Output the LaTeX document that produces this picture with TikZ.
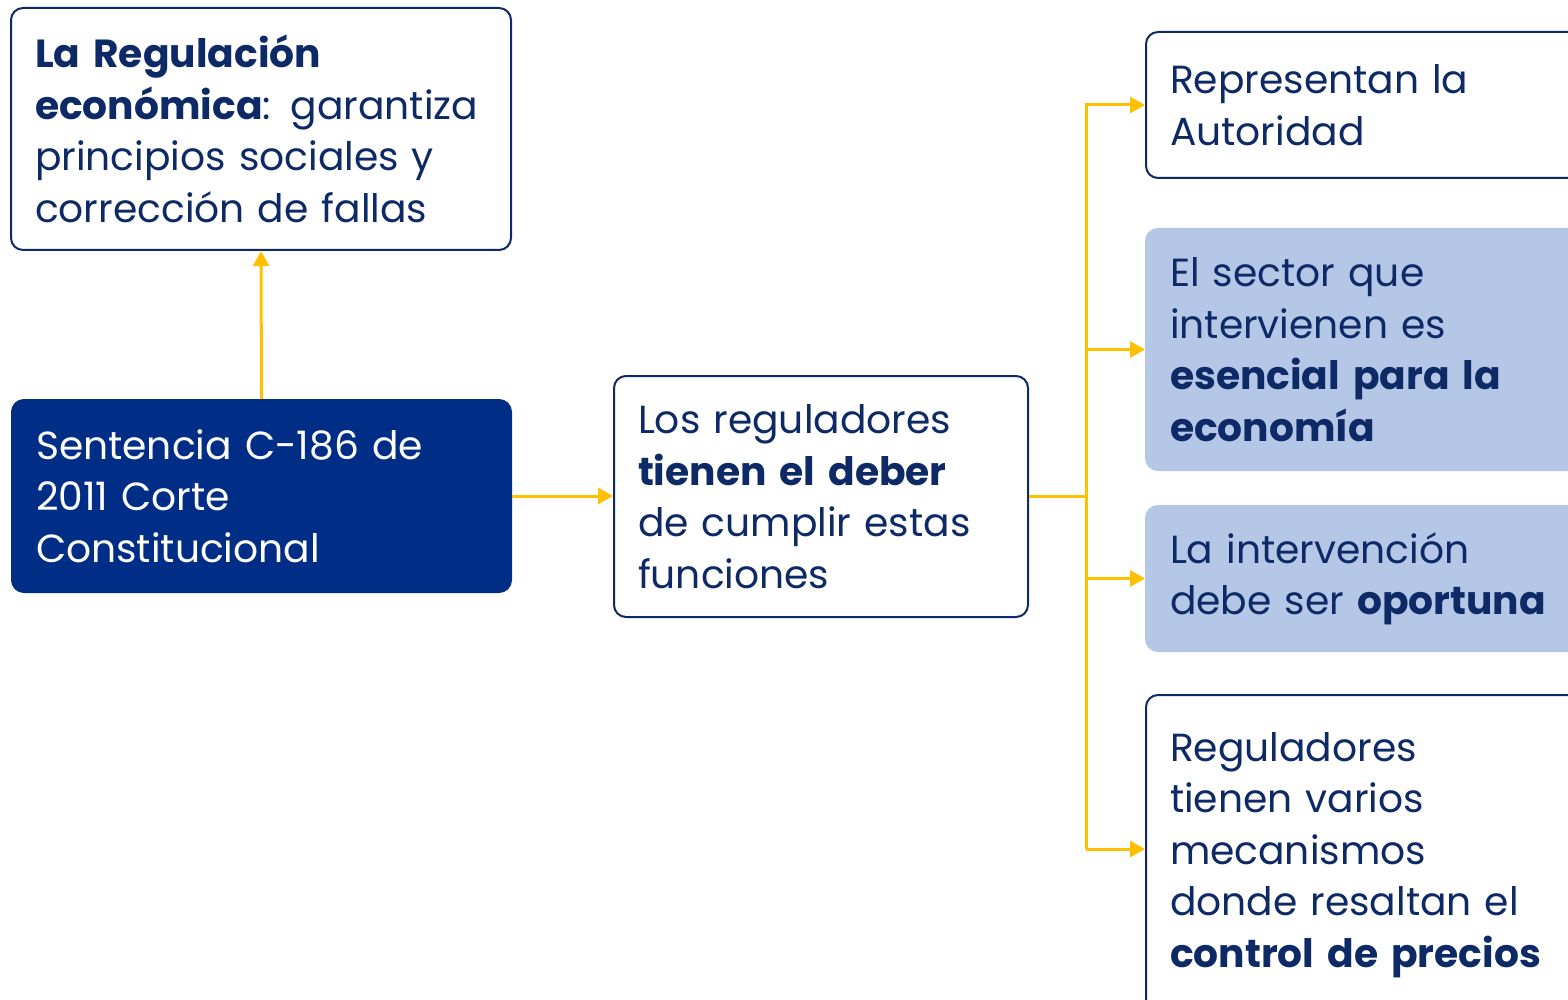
\documentclass[tikz,border=0pt]{standalone}
\usepackage{fontspec}
\setmainfont{Poppins}
\usetikzlibrary{arrows.meta}

\definecolor{navy}{HTML}{002D86}
\definecolor{inknavy}{HTML}{0D2A66}
\definecolor{paleblue}{HTML}{B4C7E7}
\definecolor{gold}{HTML}{FFC000}

\tikzset{
  box/.style={draw=inknavy, line width=1pt, rounded corners=6pt, anchor=north west,
    align=left, inner xsep=12pt, inner ysep=0pt, text=inknavy,
    font=\fontsize{19.6}{25.75}\selectfont},
  darkbox/.style={box, draw=navy, fill=navy, text=white},
  softbox/.style={box, draw=paleblue, fill=paleblue},
  link/.style={draw=gold, line width=1.5pt, -{Triangle[length=7.5pt,width=8pt]}},
  wire/.style={draw=gold, line width=1.5pt}
}

\begin{document}
\begin{tikzpicture}[x=0.5pt,y=-0.5pt]
\useasboundingbox (0,0) rectangle (1568,1000);
\clip (0,0) rectangle (1568,1000);
% left column
\node[box, minimum width=250pt, minimum height=121pt, text width=226pt] (reg) at (10,7)
  {\textbf{La Regulación}\\\textbf{económica}: garantiza\\principios sociales y\\corrección de fallas};
\node[darkbox, minimum width=249.5pt, minimum height=96pt, text width=225.5pt] (sent) at (11,399)
  {Sentencia C-186 de\\2011 Corte\\Constitucional};
% middle
\node[box, minimum width=207pt, minimum height=120.5pt, text width=183pt] (deber) at (613,375)
  {Los reguladores\\\textbf{tienen el deber}\\de cumplir estas\\funciones};
% right column
\node[box, minimum width=220pt, minimum height=73pt, text width=196pt] (autoridad) at (1145,31)
  {Representan la\\Autoridad};
\node[softbox, minimum width=220pt, minimum height=120.5pt, text width=196pt] (esencial) at (1145,228)
  {El sector que\\intervienen es\\\textbf{esencial para la}\\\textbf{economía}};
\node[softbox, minimum width=220pt, minimum height=72.5pt, text width=196pt] (oportuna) at (1145,505)
  {La intervención\\debe ser \textbf{oportuna}};
\node[box, minimum width=220pt, minimum height=160pt, text width=196pt] (precios) at (1145,694)
  {Reguladores\\tienen varios\\mecanismos\\donde resaltan el\\\textbf{control de precios}};
% connectors
\coordinate (hub) at (1086,495);
\coordinate (tap) at (1086,849);
\draw[link] (sent.north) -- (reg.south);
\draw[link] (sent.east) -- (sent.east -| deber.west);
\draw[wire] (deber.east) -- (deber.east -| hub);
\draw[wire] (hub |- autoridad.west) -- (tap);
\draw[link] (hub) |- (autoridad.west);
\draw[link] (hub) |- (esencial.west);
\draw[link] (hub) |- (oportuna.west);
\draw[link] (tap) -- (tap -| precios.west);
\end{tikzpicture}
\end{document}
